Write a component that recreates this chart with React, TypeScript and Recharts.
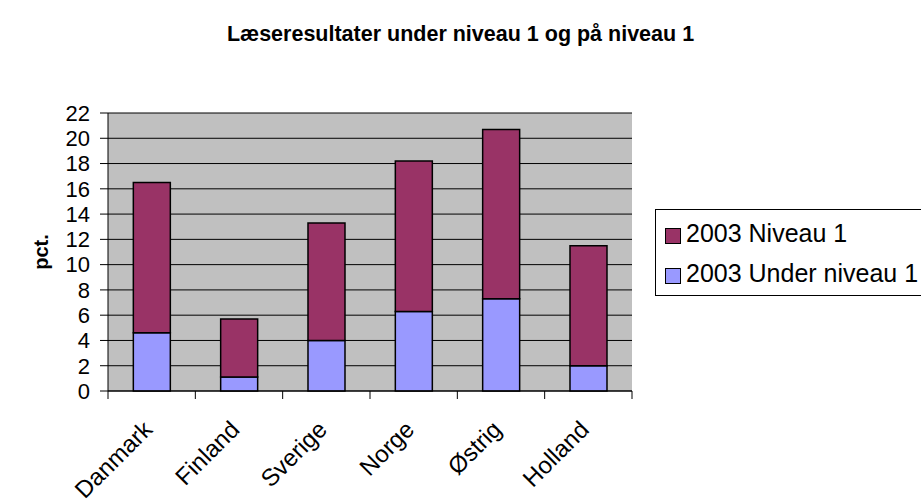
import { BarChart, Bar, XAxis, YAxis, CartesianGrid } from 'recharts'

const countries = ['Danmark', 'Finland', 'Sverige', 'Norge', 'Østrig', 'Holland']
const underNiveau1 = [4.6, 1.1, 4.0, 6.3, 7.3, 2.0]
const niveau1 = [11.9, 4.6, 9.3, 11.9, 13.4, 9.5]
const yTicks = [0, 2, 4, 6, 8, 10, 12, 14, 16, 18, 20, 22]

const data = countries.map((c, i) => ({ land: c, under: underNiveau1[i], niveau: niveau1[i] }))

const FONT = '"Liberation Sans", Arial, sans-serif'
const PLOT_W = 524

// kategori-akse: etiket drejet 45 grader + skillestreger mellem kategorierne
function CountryTick(props: any) {
  const { x, y, payload, index } = props
  const half = PLOT_W / countries.length / 2
  const tx = x + 2
  const ty = y + 32
  return (
    <g>
      <line x1={x - half} y1={y - 8} x2={x - half} y2={y} stroke="#000" />
      {index === countries.length - 1 && <line x1={x + half} y1={y - 8} x2={x + half} y2={y} stroke="#000" />}
      <text x={tx} y={ty} transform={`rotate(-45 ${tx} ${ty})`} textAnchor="end" fontSize={24} fontFamily={FONT} fill="#000">
        {payload.value}
      </text>
    </g>
  )
}

function LegendBox() {
  const items = [
    { label: '2003 Niveau 1', color: '#993366' },
    { label: '2003 Under niveau 1', color: '#9999FF' },
  ]
  return (
    <div
      style={{
        position: 'absolute',
        left: 655,
        top: 209,
        width: 280,
        height: 87,
        boxSizing: 'border-box',
        border: '1px solid #000',
        paddingLeft: 9,
        paddingTop: 7,
        fontFamily: FONT,
        fontSize: 25,
        background: '#fff',
      }}
    >
      {items.map((it) => (
        <div key={it.label} style={{ display: 'flex', alignItems: 'center', height: 32, marginBottom: 8 }}>
          <span style={{ width: 16, height: 16, boxSizing: 'border-box', background: it.color, border: '1.5px solid #000', marginRight: 5, marginTop: 5 }} />
          <span>{it.label}</span>
        </div>
      ))}
    </div>
  )
}

export default function App() {
  return (
    <div style={{ position: 'absolute', left: 0, top: 0, width: 921, height: 502, overflow: 'hidden', background: '#fff' }}>
      <div
        style={{
          position: 'absolute',
          top: 22,
          width: 921,
          textAlign: 'center',
          fontFamily: FONT,
          fontWeight: 'bold',
          fontSize: 21.5,
        }}
      >
        Læseresultater under niveau 1 og på niveau 1
      </div>
      <BarChart
        width={921}
        height={502}
        data={data}
        margin={{ top: 113, right: 289, left: 0, bottom: 0 }}
        barCategoryGap="29%"
      >
        <CartesianGrid vertical={false} stroke="#000" fill="#C0C0C0" fillOpacity={1} />
        <XAxis dataKey="land" height={111} axisLine={{ stroke: '#000' }} tickLine={false} tick={<CountryTick />} interval={0} />
        <XAxis xAxisId="top" orientation="top" dataKey="land" height={0} axisLine={{ stroke: '#808080' }} tick={false} tickLine={false} />
        <YAxis
          width={108}
          domain={[0, 22]}
          ticks={yTicks}
          interval={0}
          tickSize={8}
          axisLine={{ stroke: '#000' }}
          tickLine={{ stroke: '#000' }}
          tick={{ fill: '#000', fontSize: 22, fontFamily: FONT }}
          tickMargin={10}
          label={{ value: 'pct.', angle: -90, position: 'insideLeft', dx: 36, style: { fontWeight: 'bold', fontSize: 20, fontFamily: FONT, fill: '#000', textAnchor: 'middle' } }}
        />
        <YAxis yAxisId="right" orientation="right" width={0} domain={[0, 22]} axisLine={{ stroke: '#808080' }} tick={false} tickLine={false} />
        <Bar dataKey="under" stackId="a" fill="#9999FF" stroke="#000" strokeWidth={1.5} isAnimationActive={false} />
        <Bar dataKey="niveau" stackId="a" fill="#993366" stroke="#000" strokeWidth={1.5} isAnimationActive={false} />
      </BarChart>
      <LegendBox />
    </div>
  )
}
